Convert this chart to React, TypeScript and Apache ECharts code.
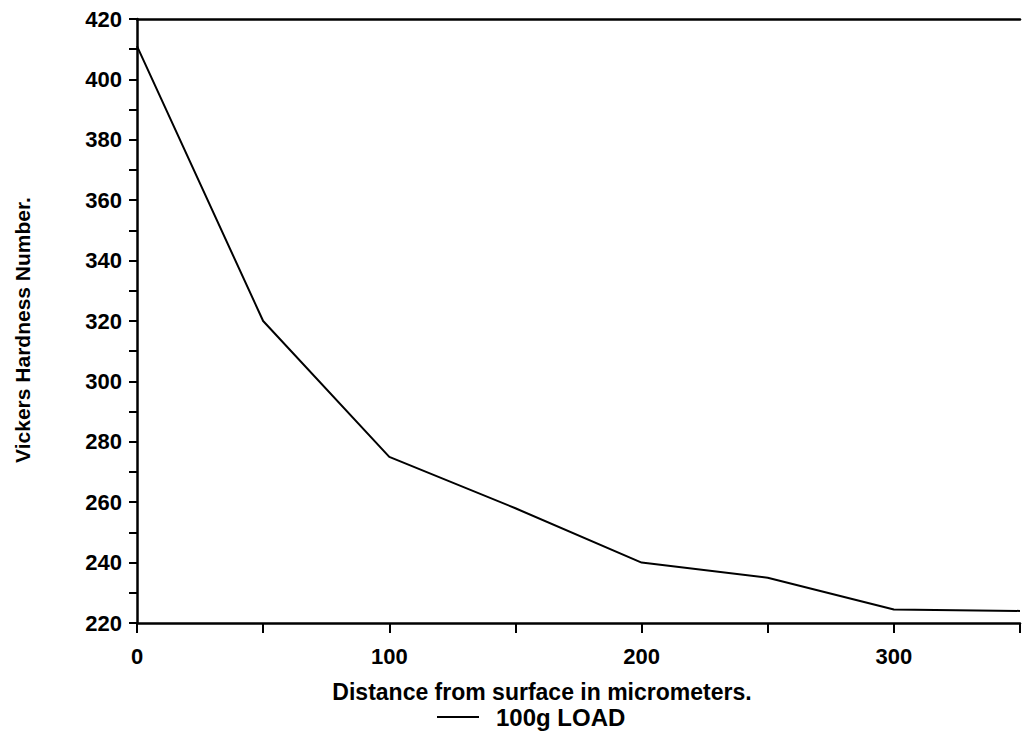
import React, { useEffect, useRef } from "react";
import * as echarts from "echarts";

const distance = [0, 50, 100, 150, 200, 250, 300, 350];
const hardness = [411, 320, 275, 258, 240, 235, 224.5, 224];
const seriesName = "100g LOAD";
const xTitle = "Distance from surface in micrometers.";
const yTitle = "Vickers Hardness Number.";

const FONT = "'Liberation Sans', Arial, sans-serif";

export default function App() {
  const ref = useRef<HTMLDivElement>(null);
  useEffect(() => {
    if (!ref.current) return;
    const chart = echarts.init(ref.current, null, { renderer: "svg" });
    chart.setOption({
      animation: false,
      backgroundColor: "#ffffff",
      textStyle: { fontFamily: FONT, color: "#000" },
      grid: { left: 137, top: 19, width: 891, height: 604, containLabel: false },
      xAxis: [
        {
          type: "value",
          min: 0,
          max: 350,
          interval: 50,
          position: "bottom",
          axisLine: { show: true, lineStyle: { color: "#000", width: 2.5 } },
          axisTick: { show: true, length: 10, lineStyle: { color: "#000", width: 2 } },
          axisLabel: {
            margin: 22,
            fontSize: 22,
            fontWeight: "bold",
            color: "#000",
            fontFamily: FONT,
            formatter: (v: number) => (v % 100 === 0 ? String(v) : ""),
          },
          splitLine: { show: false },
        },
        {
          type: "value",
          min: 0,
          max: 350,
          position: "top",
          axisLine: { show: true, onZero: false, lineStyle: { color: "#000", width: 2.5 } },
          axisTick: { show: false },
          axisLabel: { show: false },
          splitLine: { show: false },
        },
      ],
      yAxis: {
        type: "value",
        min: 220,
        max: 420,
        interval: 10,
        axisLine: { show: true, lineStyle: { color: "#000", width: 2.5 } },
        axisTick: { show: true, length: 8, lineStyle: { color: "#000", width: 2 } },
        axisLabel: {
          margin: 15,
          fontSize: 22,
          fontWeight: "bold",
          color: "#000",
          fontFamily: FONT,
          formatter: (v: number) => (v % 20 === 0 ? String(v) : ""),
        },
        splitLine: { show: false },
      },
      legend: {
        left: 432,
        top: 700,
        itemWidth: 42,
        itemHeight: 24,
        icon: "path://M0,11 L42,11 L42,13 L0,13 Z",
        textStyle: {
          fontSize: 24,
          fontWeight: "bold",
          color: "#000",
          fontFamily: FONT,
          padding: [0, 0, 0, 12],
        },
        data: [seriesName],
      },
      graphic: [
        {
          type: "text",
          x: 542,
          y: 692,
          style: {
            text: xTitle,
            fontSize: 23,
            fontWeight: "bold",
            fill: "#000",
            fontFamily: FONT,
            align: "center",
            verticalAlign: "middle",
          },
        },
        {
          type: "text",
          x: 22,
          y: 330,
          rotation: Math.PI / 2,
          style: {
            text: yTitle,
            fontSize: 21,
            fontWeight: "bold",
            fill: "#000",
            fontFamily: FONT,
            align: "center",
            verticalAlign: "middle",
          },
        },
      ],
      series: [
        {
          name: seriesName,
          type: "line",
          data: distance.map((d, i) => [d, hardness[i]]),
          showSymbol: false,
          symbol: "none",
          lineStyle: { color: "#000", width: 2 },
          itemStyle: { color: "#000" },
        },
      ],
    });
    return () => chart.dispose();
  }, []);
  return (
    <div
      ref={ref}
      style={{ position: "fixed", left: 0, top: 0, width: 1023, height: 734 }}
    />
  );
}
